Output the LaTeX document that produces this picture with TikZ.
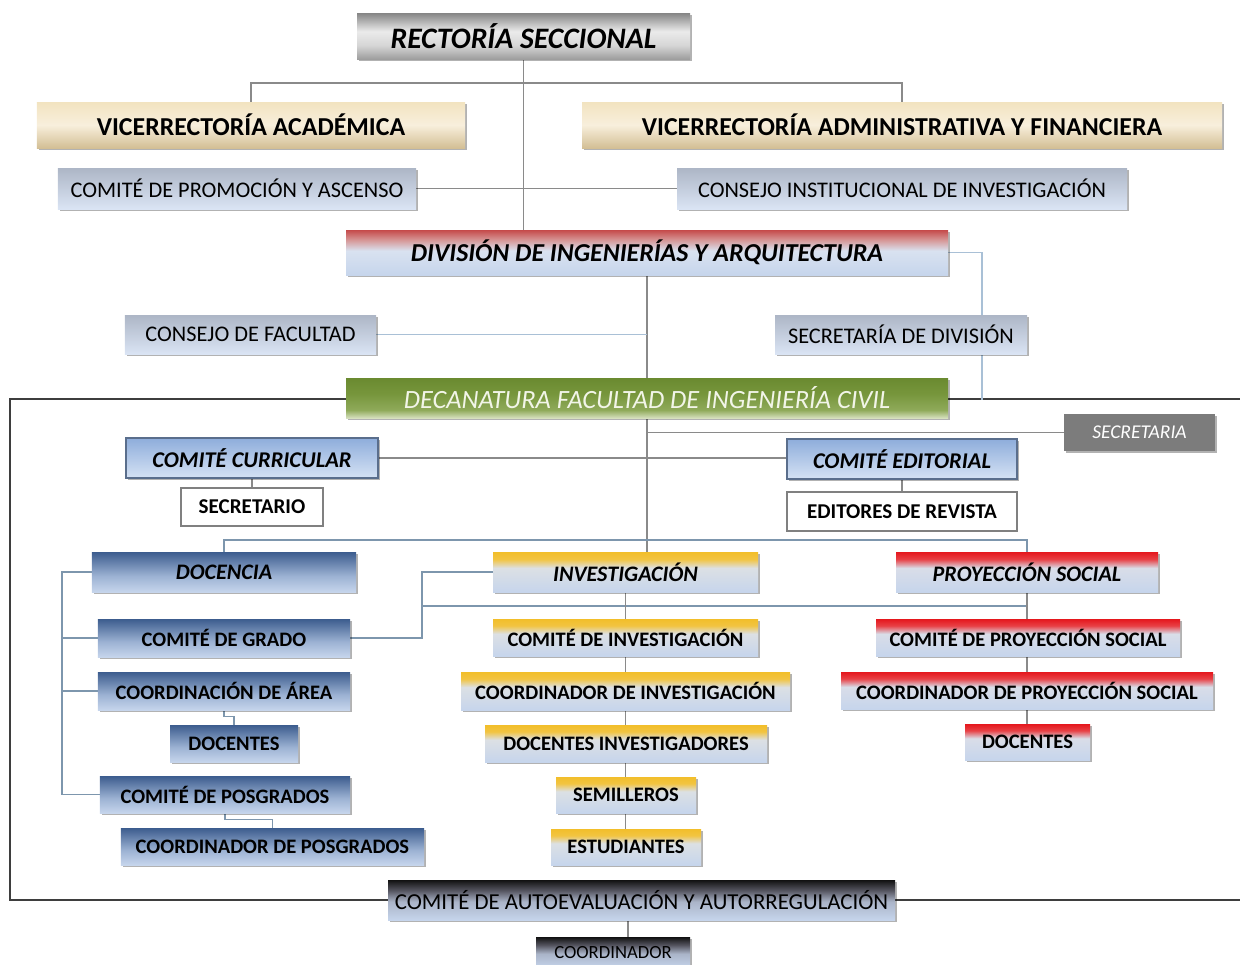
\documentclass[tikz,border=0pt]{standalone}
\usepackage{fontspec}
\setmainfont{Carlito}
\usetikzlibrary{shadows,calc}
\pgfdeclarelayer{bg}
\pgfsetlayers{bg,main}

\definecolor{lb}{HTML}{C6D5EC}
\definecolor{linegray}{HTML}{8A8A8A}
\definecolor{lineblue}{HTML}{A9C0D6}
\definecolor{linebg}{HTML}{7D96AD}
\definecolor{framec}{HTML}{3E3E3E}
\definecolor{secgray}{HTML}{7C7C7C}
\definecolor{ccborder}{HTML}{5A6E8C}
\definecolor{dectext}{HTML}{F2F5E8}

\pgfdeclareverticalshading{silversh}{100bp}{color(0bp)=(black!38!white); color(25bp)=(black!38!white); color(40bp)=(black!16!white); color(55bp)=(black!8!white); color(75bp)=(black!48!white); color(100bp)=(black!48!white)}
\pgfdeclareverticalshading{beigesh}{100bp}{color(0bp)=({rgb,255:red,211;green,191;blue,149}); color(25bp)=({rgb,255:red,211;green,191;blue,149}); color(50bp)=({rgb,255:red,248;green,239;blue,220}); color(75bp)=({rgb,255:red,242;green,227;blue,192}); color(100bp)=({rgb,255:red,242;green,227;blue,192})}
\pgfdeclareverticalshading{palesh}{100bp}{color(0bp)=({rgb,255:red,218;green,228;blue,244}); color(25bp)=({rgb,255:red,218;green,228;blue,244}); color(75bp)=({rgb,255:red,173;green,182;blue,198}); color(100bp)=({rgb,255:red,173;green,182;blue,198})}
\pgfdeclareverticalshading{divsh}{100bp}{color(0bp)=(lb); color(25bp)=(lb); color(52bp)=({rgb,255:red,217;green,226;blue,240}); color(64bp)=({rgb,255:red,214;green,150;blue,150}); color(75bp)=({rgb,255:red,197;green,74;blue,74}); color(100bp)=({rgb,255:red,197;green,74;blue,74})}
\pgfdeclareverticalshading{decsh}{100bp}{color(0bp)=({rgb,255:red,214;green,224;blue,190}); color(25bp)=({rgb,255:red,214;green,224;blue,190}); color(35bp)=({rgb,255:red,143;green,170;blue,90}); color(55bp)=({rgb,255:red,119;green,150;blue,60}); color(75bp)=({rgb,255:red,106;green,138;blue,48}); color(100bp)=({rgb,255:red,106;green,138;blue,48})}
\pgfdeclareverticalshading{ccsh}{100bp}{color(0bp)=({rgb,255:red,213;green,226;blue,244}); color(25bp)=({rgb,255:red,213;green,226;blue,244}); color(75bp)=({rgb,255:red,142;green,173;blue,219}); color(100bp)=({rgb,255:red,142;green,173;blue,219})}
\pgfdeclareverticalshading{steelsh}{100bp}{color(0bp)=(lb); color(25bp)=(lb); color(45bp)=({rgb,255:red,156;green,178;blue,211}); color(75bp)=({rgb,255:red,60;green,92;blue,142}); color(100bp)=({rgb,255:red,60;green,92;blue,142})}
\pgfdeclareverticalshading{goldsh}{100bp}{color(0bp)=(lb); color(25bp)=(lb); color(55bp)=({rgb,255:red,220;green,224;blue,228}); color(66bp)=({rgb,255:red,242;green,196;blue,65}); color(75bp)=({rgb,255:red,242;green,190;blue,42}); color(100bp)=({rgb,255:red,242;green,190;blue,42})}
\pgfdeclareverticalshading{redsh}{100bp}{color(0bp)=(lb); color(25bp)=(lb); color(55bp)=({rgb,255:red,217;green,221;blue,232}); color(66bp)=({rgb,255:red,232;green,64;blue,69}); color(75bp)=({rgb,255:red,229;green,23;blue,29}); color(100bp)=({rgb,255:red,229;green,23;blue,29})}
\pgfdeclareverticalshading{blacksh}{100bp}{color(0bp)=(lb); color(25bp)=(lb); color(48bp)=({rgb,255:red,170;green,180;blue,200}); color(62bp)=({rgb,255:red,85;green,85;blue,96}); color(75bp)=({rgb,255:red,17;green,17;blue,17}); color(100bp)=({rgb,255:red,17;green,17;blue,17})}

\newcommand\obox[7]{%
  \pgfmathsetmacro\obw{(#5-#3)*0.02}%
  \pgfmathsetmacro\obh{(#6-#4)*0.02}%
  \node[#2, minimum width=\obw cm, minimum height=\obh cm] (#1) at ({(#3+#5)/2},{(#4+#6)/2}) {#7};}

\tikzset{
  base/.style={inner sep=0pt, align=center, text=black, anchor=center,
    drop shadow={shadow xshift=1.2pt, shadow yshift=-1.2pt, opacity=0.3, fill=black}},
  silverst/.style={base, shading=silversh, font=\fontsize{16.9pt}{18pt}\selectfont\bfseries\itshape},
  beigest/.style={base, shading=beigesh, font=\fontsize{14.7pt}{16pt}\selectfont\bfseries},
  palest/.style={base, shading=palesh, font=\fontsize{12.7pt}{14pt}\selectfont},
  divst/.style={base, shading=divsh, font=\fontsize{14.7pt}{16pt}\selectfont\bfseries\itshape},
  decst/.style={base, shading=decsh, text=dectext, font=\fontsize{15pt}{16pt}\selectfont\itshape},
  secst/.style={base, fill=secgray, text=white, font=\fontsize{11.1pt}{12pt}\selectfont\itshape},
  ccst/.style={base, shading=ccsh, draw=ccborder, line width=0.6pt, font=\fontsize{12.8pt}{14pt}\selectfont\bfseries\itshape},
  whitest/.style={inner sep=0pt, align=center, anchor=center, fill=white, draw=black!50, line width=0.6pt, font=\fontsize{12pt}{13pt}\selectfont\bfseries},
  steelhd/.style={base, shading=steelsh, font=\fontsize{12.6pt}{14pt}\selectfont\bfseries\itshape},
  goldhd/.style={base, shading=goldsh, font=\fontsize{12.6pt}{14pt}\selectfont\bfseries\itshape},
  redhd/.style={base, shading=redsh, font=\fontsize{12.6pt}{14pt}\selectfont\bfseries\itshape},
  steelst/.style={base, shading=steelsh, font=\fontsize{11.7pt}{13pt}\selectfont\bfseries},
  goldst/.style={base, shading=goldsh, font=\fontsize{11.7pt}{13pt}\selectfont\bfseries},
  redst/.style={base, shading=redsh, font=\fontsize{11.7pt}{13pt}\selectfont\bfseries},
  blackst/.style={base, shading=blacksh, font=\fontsize{13pt}{14pt}\selectfont},
  blacksm/.style={base, shading=blacksh, font=\fontsize{10.6pt}{12pt}\selectfont},
  conn/.style={draw=linegray, line width=0.8pt},
  bconn/.style={draw=lineblue, line width=0.8pt},
  gconn/.style={draw=linebg, line width=0.8pt},
  framest/.style={draw=framec, line width=1.6pt}
}

\begin{document}
\begin{tikzpicture}[x=0.02cm, y=-0.02cm]
\useasboundingbox (0,0) rectangle (1240,964);

\obox{rect}{silverst}{357}{13}{690}{59}{RECTORÍA SECCIONAL}
\obox{va}{beigest}{37}{102}{465}{148}{VICERRECTORÍA ACADÉMICA}
\obox{vaf}{beigest}{582}{102}{1222}{148}{VICERRECTORÍA ADMINISTRATIVA Y FINANCIERA}
\obox{cpa}{palest}{58}{168}{416}{209}{COMITÉ DE PROMOCIÓN Y ASCENSO}
\obox{cii}{palest}{677}{168}{1127}{209}{CONSEJO INSTITUCIONAL DE INVESTIGACIÓN}
\obox{div}{divst}{346}{230}{948}{275}{DIVISIÓN DE INGENIERÍAS Y ARQUITECTURA}
\obox{cf}{palest}{125}{315}{376}{354}{CONSEJO DE FACULTAD}
\obox{sdiv}{palest}{775}{315}{1027}{354}{SECRETARÍA DE DIVISIÓN}
\obox{dec}{decst}{346}{378}{948}{418}{DECANATURA FACULTAD DE INGENIERÍA CIVIL}
\obox{sec}{secst}{1064}{414}{1215}{451}{SECRETARIA}
\obox{cc}{ccst}{126}{438}{378}{478}{COMITÉ CURRICULAR}
\obox{ce}{ccst}{787}{439}{1017}{479}{COMITÉ EDITORIAL}
\obox{sio}{whitest}{181}{488}{323}{526}{SECRETARIO}
\obox{edr}{whitest}{787}{492}{1017}{531}{EDITORES DE REVISTA}
\obox{doc}{steelhd}{92}{552}{356}{592}{DOCENCIA}
\obox{inv}{goldhd}{493}{552}{758}{592}{INVESTIGACIÓN}
\obox{proy}{redhd}{896}{552}{1158}{592}{PROYECCIÓN SOCIAL}
\obox{cg}{steelst}{98}{619}{350}{657}{COMITÉ DE GRADO}
\obox{coa}{steelst}{98}{672}{350}{710}{COORDINACIÓN DE ÁREA}
\obox{dbl}{steelst}{170}{725}{298}{762}{DOCENTES}
\obox{cpo}{steelst}{100}{776}{350}{813}{COMITÉ DE POSGRADOS}
\obox{copo}{steelst}{121}{828}{424}{865}{COORDINADOR DE POSGRADOS}
\obox{cin}{goldst}{493}{619}{758}{656}{COMITÉ DE INVESTIGACIÓN}
\obox{coi}{goldst}{461}{672}{790}{710}{COORDINADOR DE INVESTIGACIÓN}
\obox{din}{goldst}{485}{725}{767}{762}{DOCENTES INVESTIGADORES}
\obox{sem}{goldst}{556}{777}{696}{813}{SEMILLEROS}
\obox{est}{goldst}{551}{829}{701}{865}{ESTUDIANTES}
\obox{cps}{redst}{876}{619}{1180}{656}{COMITÉ DE PROYECCIÓN SOCIAL}
\obox{cops}{redst}{841}{672}{1213}{709}{COORDINADOR DE PROYECCIÓN SOCIAL}
\obox{drd}{redst}{965}{724}{1090}{760}{DOCENTES}
\obox{ae}{blackst}{388}{880}{895}{920}{COMITÉ DE AUTOEVALUACIÓN Y AUTORREGULACIÓN}
\obox{coord}{blacksm}{536}{937}{690}{968}{COORDINADOR}

\coordinate (h83) at (0,83);
\coordinate (sdx) at (982,400);
\coordinate (h540) at (0,540);
\coordinate (lbx) at (62,0);
\coordinate (mx) at (422,0);
\coordinate (h606) at (0,606);
\coordinate (cx) at (628,0);

\begin{pgfonlayer}{bg}
\draw[framest] (10,399) rectangle (1260,900);
\draw[conn] (rect.south) -- (rect.south |- div.north);
\draw[conn] (va.north) -- (va.north |- h83) -- (vaf.north |- h83) -- (vaf.north);
\draw[conn] (cpa.east) -- (cii.west);
\draw[conn] (div.south) -- (dec.north);
\draw[bconn] (cf.east) -- (cf.east -| div.south);
\draw[bconn] (div.east) -| (sdx);
\draw[conn] (dec.south) -- (dec.south |- inv.north);
\draw[conn] (sec.west) -- (sec.west -| dec.south);
\draw[conn] (cc.east) -- (cc.east -| ce.west);
\draw[conn] (cc.south) -- (sio.north);
\draw[conn] (ce.south) -- (edr.north);
\draw[gconn] (doc.north) -- (doc.north |- h540) -- (proy.north |- h540) -- (proy.north);
\draw[gconn] (doc.west) -- (doc.west -| lbx) -- (lbx |- cpo.west) -- (cpo.west);
\draw[gconn] (cg.west) -- (cg.west -| lbx);
\draw[gconn] (coa.west) -- (coa.west -| lbx);
\draw[gconn] (cg.east) -- (cg.east -| mx) -- (mx |- inv.west) -- (inv.west);
\draw[gconn] (mx |- h606) -- (proy.south |- h606);
\draw[conn] (inv.south) -- (inv.south |- est.north);
\draw[conn] (proy.south) -- (proy.south |- drd.north);
\draw[gconn] (coa.south) -- ++(0,6) -| (dbl.north);
\draw[gconn] (cpo.south) -- ++(0,6) -| (copo.north);
\draw[conn] (ae.south -| cx) -- (coord.north -| cx);
\end{pgfonlayer}
\end{tikzpicture}
\end{document}
